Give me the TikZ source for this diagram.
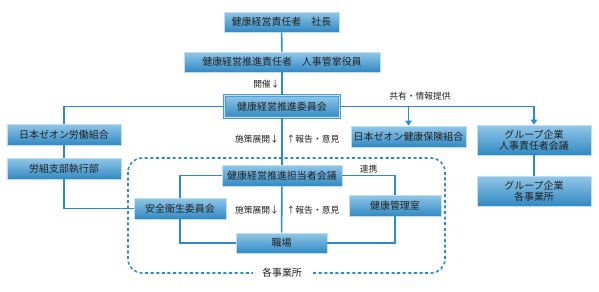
\documentclass[tikz,border=0pt]{standalone}
\usepackage{fontspec}
\setmainfont{Noto Sans CJK JP}
\usetikzlibrary{arrows.meta}
\definecolor{lineblue}{HTML}{2B8CCD}
\definecolor{boxtop}{HTML}{92C7E8}
\definecolor{boxbot}{HTML}{3189C2}
\definecolor{boxedge}{HTML}{BFDFF2}
\definecolor{inktext}{HTML}{222222}

\tikzset{
  box/.style={rectangle, draw=boxedge, line width=0.8pt, top color=boxtop, bottom color=boxbot,
    inner sep=0pt, align=center, text=inktext, font=\fontsize{10}{11.5}\selectfont},
  mainbox/.style={box, draw=lineblue!85, line width=0.6pt, double=boxedge, double distance=1.2pt},
  link/.style={draw=lineblue, line width=1.6pt},
  tolink/.style={link, -{Triangle[width=6.5bp,length=5bp]}},
  note/.style={text=inktext, inner sep=1.5bp, font=\fontsize{8.8}{9}\selectfont},
  frame/.style={draw=lineblue, line width=1.6pt, dash pattern=on 3bp off 2.6bp, rounded corners=14bp},
}

\begin{document}
\begin{tikzpicture}[x=1bp,y=-1bp]
        \useasboundingbox (0,0) rectangle (599,291);
        \draw[frame] (128,158) rectangle (445,273);
        \node[text=inktext, fill=white, inner xsep=9bp, inner ysep=1bp, font=\fontsize{10}{11}\selectfont] (site) at (282,273) {各事業所};

        \node[box, minimum width=115bp, minimum height=20bp] (ceo) at (281.5,22.0) {健康経営責任者　社長};
        \node[box, minimum width=196bp, minimum height=20bp] (resp) at (282.0,62.0) {健康経営推進責任者　人事管掌役員};
        \node[mainbox, minimum width=115bp, minimum height=22bp] (comm) at (282.0,106.5) {健康経営推進委員会};
        \node[box, minimum width=114bp, minimum height=21bp] (union) at (64.0,134.5) {日本ゼオン労働組合};
        \node[box, minimum width=114bp, minimum height=21bp] (branch) at (64.0,168.5) {労組支部執行部};
        \node[box, minimum width=115bp, minimum height=21bp] (hip) at (408.5,136.5) {日本ゼオン健康保険組合};
        \node[box, minimum width=114bp, minimum height=30bp] (grphr) at (534.0,140.0) {グループ企業\\人事責任者会議};
        \node[box, minimum width=114bp, minimum height=30bp] (grpsite) at (534.0,191.0) {グループ企業\\各事業所};
        \node[box, minimum width=120bp, minimum height=21bp] (contact) at (282.0,175.5) {健康経営推進担当者会議};
        \node[box, minimum width=92bp, minimum height=21bp] (health) at (395.0,205.5) {健康管理室};
        \node[box, minimum width=92bp, minimum height=21bp] (safety) at (180.0,208.5) {安全衛生委員会};
        \node[box, minimum width=91bp, minimum height=20bp] (work) at (281.5,243.0) {職場};

        \node[note] (share) at (420,96) {共有・情報提供};
        \node[note] (downA) at (257,139) {施策展開↓};
        \node[note] (upA) at (313,139) {↑報告・意見};
        \node[note] (downB) at (257,210) {施策展開↓};
        \node[note] (upB) at (313,210) {↑報告・意見};

        \draw[link] (ceo) -- (resp);
        \draw[link] (resp) -- node[note, left] {開催↓} (comm);
        \draw[link] (comm.west) -| (union.north);
        \draw[tolink] (comm.east) -| (grphr.north);
        \draw[tolink] (comm.east -| hip.north) -- (hip.north);
        \draw[link] (comm) -- (contact);
        \draw[link] (union) -- (branch);
        \draw[link] (branch.south) |- (safety.west);
        \draw[link] (grphr) -- (grpsite);
        \draw[link] (contact.west) -| (safety.north);
        \draw[link] (safety.south) |- (work.west);
        \draw[link] (contact.east) -| node[note, above, pos=0.25] {連携} (health.north);
        \draw[link] (health.south) |- (work.east);
        \draw[link] (contact) -- (work);
\end{tikzpicture}
\end{document}
